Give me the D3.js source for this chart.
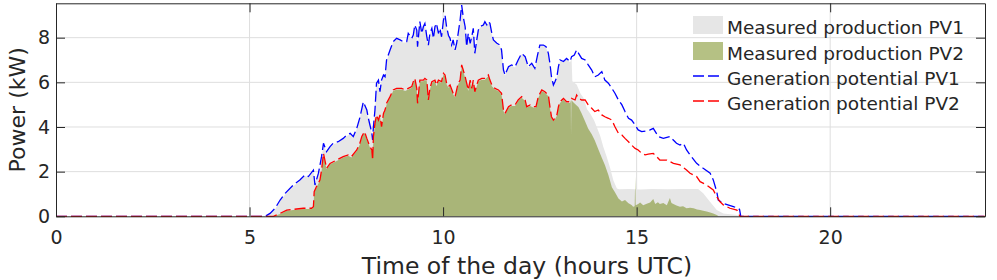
<!DOCTYPE html>
<html><head><meta charset="utf-8">
<script src="https://cdn.jsdelivr.net/npm/d3@7"></script>
<style>
body{margin:0;background:#fff}
text{font-family:"DejaVu Sans",sans-serif;fill:#262626}
</style>
</head><body>
<svg id="chart" width="997" height="280"></svg>
<script>
// ---- data (hours UTC, kW) ----
const xTicks = [0, 5, 10, 15, 20];
const yTicks = [0, 2, 4, 6, 8];
const legendLabels = ["Measured production PV1", "Measured production PV2", "Generation potential PV1", "Generation potential PV2"];

const potentialPV1 = [[0,0],[5.40,0],[5.53,0.13],[5.66,0.36],[5.79,0.73],[5.92,1.03],[6.13,1.40],[6.30,1.63],[6.43,1.85],[6.52,1.78],[6.65,2.07],[6.69,1.40],[6.78,1.93],[6.86,2.67],[6.91,3.27],[6.99,2.90],[7.08,3.12],[7.16,3.27],[7.29,3.34],[7.42,3.49],[7.51,3.64],[7.60,3.72],[7.68,3.57],[7.77,3.94],[7.85,4.42],[7.94,5.13],[8.03,4.76],[8.07,4.39],[8.11,4.09],[8.16,3.72],[8.18,3.42],[8.20,4.01],[8.24,4.76],[8.28,5.96],[8.33,6.10],[8.37,5.58],[8.41,6.10],[8.46,6.33],[8.50,6.25],[8.54,7.00],[8.63,7.45],[8.71,7.82],[8.80,7.97],[8.89,7.90],[8.97,7.82],[9.06,7.82],[9.10,8.19],[9.19,7.97],[9.23,8.12],[9.27,8.57],[9.32,8.34],[9.34,7.60],[9.40,8.72],[9.45,8.19],[9.49,8.49],[9.53,8.64],[9.58,8.04],[9.62,7.67],[9.66,8.19],[9.71,8.42],[9.75,7.97],[9.79,8.49],[9.83,8.64],[9.88,8.19],[9.92,8.42],[9.96,8.04],[10.01,8.79],[10.05,9.01],[10.09,8.49],[10.14,8.10],[10.18,7.97],[10.22,7.67],[10.26,7.90],[10.31,7.45],[10.35,7.75],[10.39,8.19],[10.44,8.79],[10.48,9.46],[10.52,8.94],[10.57,8.49],[10.61,7.60],[10.65,8.19],[10.70,7.75],[10.74,8.04],[10.78,8.42],[10.82,7.30],[10.87,7.90],[10.91,8.34],[10.95,8.49],[11.04,8.57],[11.08,8.72],[11.13,8.57],[11.17,8.72],[11.21,8.64],[11.26,8.19],[11.30,7.90],[11.39,7.75],[11.47,7.67],[11.51,7.45],[11.56,6.55],[11.60,6.33],[11.69,6.70],[11.77,6.78],[11.86,6.70],[11.94,7.00],[12.03,7.30],[12.12,7.15],[12.20,6.70],[12.29,6.85],[12.37,6.63],[12.44,7.22],[12.50,7.67],[12.59,7.67],[12.66,7.60],[12.72,7.30],[12.76,6.85],[12.80,6.25],[12.85,5.88],[12.89,6.03],[12.94,6.25],[12.98,6.70],[13.02,7.00],[13.11,6.93],[13.19,7.07],[13.28,6.93],[13.32,7.15],[13.39,7.22],[13.45,7.45],[13.50,7.30],[13.58,7.07],[13.67,7.00],[13.75,6.78],[13.84,6.55],[13.92,6.25],[14.01,6.33],[14.10,6.48],[14.18,6.10],[14.27,5.96],[14.36,5.73],[14.44,5.51],[14.53,5.21],[14.62,4.99],[14.70,4.69],[14.79,4.39],[14.87,4.31],[14.96,4.09],[15.04,3.87],[15.13,3.79],[15.25,3.82],[15.35,3.87],[15.43,3.94],[15.56,3.57],[15.69,3.49],[15.86,3.57],[16.03,3.27],[16.12,3.19],[16.21,3.27],[16.29,2.97],[16.38,2.75],[16.55,2.37],[16.72,2.15],[16.90,1.93],[16.98,1.63],[17.07,1.10],[17.11,0.73],[17.24,0.58],[17.50,0.43],[17.63,0.36],[17.66,0.30],[17.69,0],[24,0]];

const potentialPV2 = [[0,0],[5.62,0],[5.79,0.13],[5.96,0.28],[6.13,0.31],[6.39,0.36],[6.60,0.36],[6.65,0.43],[6.67,1.10],[6.73,1.33],[6.82,1.63],[6.86,2.07],[6.91,2.82],[6.99,2.15],[7.08,2.37],[7.25,2.52],[7.42,2.67],[7.55,2.75],[7.63,2.67],[7.77,2.97],[7.85,3.27],[7.90,3.57],[7.97,3.79],[8.03,3.49],[8.11,3.12],[8.16,2.97],[8.18,2.52],[8.20,3.57],[8.24,4.16],[8.28,4.54],[8.33,4.31],[8.37,4.54],[8.41,4.01],[8.46,4.61],[8.50,4.76],[8.54,5.06],[8.63,5.36],[8.71,5.66],[8.80,5.73],[8.93,5.73],[9.02,5.66],[9.10,5.73],[9.19,5.81],[9.23,6.03],[9.27,6.18],[9.32,5.73],[9.34,5.06],[9.40,6.10],[9.49,6.10],[9.53,6.18],[9.58,6.10],[9.62,5.21],[9.66,5.73],[9.71,6.03],[9.79,6.10],[9.83,5.88],[9.88,6.10],[9.96,6.03],[10.01,6.40],[10.05,6.33],[10.09,5.96],[10.14,5.81],[10.18,5.88],[10.26,5.51],[10.31,5.36],[10.35,5.66],[10.39,5.96],[10.44,6.10],[10.48,6.78],[10.52,6.55],[10.57,6.25],[10.61,5.96],[10.65,5.66],[10.70,6.10],[10.74,5.73],[10.78,6.10],[10.82,5.58],[10.87,5.88],[10.91,6.10],[11.00,6.18],[11.08,6.18],[11.17,6.33],[11.21,6.10],[11.26,5.88],[11.34,5.73],[11.43,5.66],[11.51,5.51],[11.56,4.76],[11.60,4.61],[11.69,4.91],[11.77,4.99],[11.86,4.99],[11.94,5.21],[12.03,5.36],[12.12,5.21],[12.16,4.91],[12.25,4.99],[12.33,4.91],[12.40,4.91],[12.46,5.36],[12.55,5.66],[12.63,5.58],[12.72,5.43],[12.76,4.91],[12.80,4.46],[12.85,4.31],[12.89,4.39],[12.94,4.54],[12.98,4.91],[13.02,5.13],[13.11,5.28],[13.19,5.13],[13.28,5.13],[13.32,5.28],[13.41,5.21],[13.45,5.43],[13.50,5.28],[13.58,5.21],[13.67,5.21],[13.75,4.99],[13.84,4.84],[13.92,4.69],[14.01,4.76],[14.10,4.54],[14.18,4.46],[14.27,4.39],[14.36,4.31],[14.44,4.01],[14.53,3.72],[14.62,3.64],[14.70,3.49],[14.79,3.34],[14.87,3.19],[14.96,3.04],[15.04,2.97],[15.13,2.82],[15.22,2.75],[15.30,2.78],[15.43,2.82],[15.52,2.67],[15.60,2.52],[15.78,2.52],[15.95,2.37],[16.12,2.30],[16.29,2.07],[16.38,1.93],[16.55,1.78],[16.64,1.55],[16.81,1.40],[16.98,1.18],[17.07,0.88],[17.15,0.66],[17.24,0.51],[17.41,0.36],[17.59,0.28],[17.63,0.13],[17.67,0],[24,0]];

const measuredPV1 = [[0,0],[5.42,0],[5.53,0.10],[5.66,0.32],[5.79,0.68],[5.92,0.98],[6.13,1.35],[6.30,1.58],[6.43,1.80],[6.52,1.76],[6.65,2.02],[6.69,1.50],[6.78,1.90],[6.86,2.60],[6.91,3.20],[6.99,2.87],[7.08,3.08],[7.16,3.22],[7.29,3.30],[7.42,3.45],[7.51,3.60],[7.60,3.68],[7.68,3.55],[7.77,3.90],[7.85,4.38],[7.94,5.08],[8.03,4.72],[8.07,4.36],[8.11,4.06],[8.16,3.70],[8.18,3.45],[8.20,3.98],[8.24,4.72],[8.28,5.90],[8.33,6.05],[8.37,5.55],[8.41,6.05],[8.46,6.28],[8.50,6.22],[8.54,6.95],[8.63,7.40],[8.71,7.78],[8.80,7.92],[8.89,7.86],[8.97,7.78],[9.06,7.78],[9.10,8.14],[9.19,7.93],[9.23,8.08],[9.27,8.52],[9.32,8.30],[9.34,7.62],[9.40,8.67],[9.45,8.15],[9.49,8.45],[9.53,8.60],[9.58,8.00],[9.62,7.65],[9.66,8.15],[9.71,8.38],[9.75,7.93],[9.79,8.45],[9.83,8.60],[9.88,8.15],[9.92,8.38],[9.96,8.00],[10.01,8.75],[10.05,8.96],[10.09,8.45],[10.14,8.06],[10.18,7.93],[10.22,7.64],[10.26,7.86],[10.31,7.42],[10.35,7.71],[10.39,8.15],[10.44,8.75],[10.48,9.40],[10.52,8.90],[10.57,8.45],[10.61,7.58],[10.65,8.15],[10.70,7.71],[10.74,8.00],[10.78,8.38],[10.82,7.28],[10.87,7.86],[10.91,8.30],[10.95,8.45],[11.04,8.53],[11.08,8.68],[11.13,8.53],[11.17,8.68],[11.21,8.60],[11.26,8.15],[11.30,7.86],[11.39,7.71],[11.47,7.63],[11.51,7.42],[11.56,6.52],[11.60,6.30],[11.69,6.66],[11.77,6.74],[11.86,6.66],[11.94,6.96],[12.03,7.26],[12.12,7.11],[12.20,6.66],[12.29,6.81],[12.37,6.60],[12.44,7.18],[12.50,7.63],[12.59,7.63],[12.66,7.56],[12.72,7.26],[12.76,6.81],[12.80,6.22],[12.85,5.86],[12.89,6.00],[12.94,6.22],[12.98,6.66],[13.02,6.96],[13.11,6.90],[13.19,7.03],[13.28,6.90],[13.32,7.05],[13.34,6.05],[13.45,5.90],[13.55,5.50],[13.63,5.30],[13.72,4.80],[13.80,4.60],[13.90,4.30],[13.97,4.00],[14.06,3.60],[14.14,3.10],[14.22,2.70],[14.31,2.20],[14.40,1.60],[14.49,1.25],[14.55,1.21],[14.80,1.22],[15.10,1.20],[15.40,1.22],[15.80,1.21],[16.20,1.22],[16.59,1.22],[16.72,1.03],[16.89,0.66],[17.07,0.28],[17.24,0.13],[17.59,0.06],[17.67,0],[24,0]];

const measuredPV2 = [[0,0],[5.62,0],[5.79,0.10],[5.96,0.25],[6.13,0.28],[6.39,0.33],[6.60,0.33],[6.65,0.40],[6.67,1.05],[6.73,1.30],[6.82,1.60],[6.86,2.02],[6.91,2.75],[6.99,2.12],[7.08,2.33],[7.25,2.48],[7.42,2.63],[7.55,2.71],[7.63,2.63],[7.77,2.93],[7.85,3.22],[7.90,3.52],[7.97,3.74],[8.03,3.45],[8.11,3.08],[8.16,2.93],[8.18,2.55],[8.20,3.52],[8.24,4.11],[8.28,4.49],[8.33,4.27],[8.37,4.49],[8.41,3.98],[8.46,4.56],[8.50,4.71],[8.54,5.01],[8.63,5.31],[8.71,5.61],[8.80,5.68],[8.93,5.68],[9.02,5.61],[9.10,5.68],[9.19,5.76],[9.23,5.98],[9.27,6.12],[9.32,5.68],[9.34,5.06],[9.40,6.05],[9.49,6.05],[9.53,6.12],[9.58,6.05],[9.62,5.20],[9.66,5.68],[9.71,5.98],[9.79,6.05],[9.83,5.83],[9.88,6.05],[9.96,5.98],[10.01,6.34],[10.05,6.28],[10.09,5.91],[10.14,5.76],[10.18,5.83],[10.26,5.47],[10.31,5.32],[10.35,5.61],[10.39,5.91],[10.44,6.05],[10.48,6.72],[10.52,6.50],[10.57,6.20],[10.61,5.91],[10.65,5.61],[10.70,6.05],[10.74,5.68],[10.78,6.05],[10.82,5.54],[10.87,5.83],[10.91,6.05],[11.00,6.12],[11.08,6.12],[11.17,6.28],[11.21,6.05],[11.26,5.83],[11.34,5.68],[11.43,5.61],[11.51,5.47],[11.56,4.72],[11.60,4.57],[11.69,4.86],[11.77,4.94],[11.86,4.94],[11.94,5.16],[12.03,5.31],[12.12,5.16],[12.16,4.87],[12.25,4.94],[12.33,4.87],[12.40,4.87],[12.46,5.31],[12.55,5.61],[12.63,5.53],[12.72,5.38],[12.76,4.87],[12.80,4.42],[12.85,4.27],[12.89,4.35],[12.94,4.50],[12.98,4.87],[13.02,5.08],[13.11,5.23],[13.19,5.08],[13.28,5.08],[13.30,5.20],[13.305,3.60],[13.315,5.20],[13.37,5.10],[13.41,5.03],[13.50,4.88],[13.58,4.60],[13.67,4.25],[13.75,3.92],[13.84,3.68],[13.92,3.40],[14.01,3.00],[14.10,2.62],[14.18,2.30],[14.27,1.85],[14.36,1.30],[14.44,1.08],[14.53,0.80],[14.62,0.66],[14.70,0.73],[14.79,0.58],[14.87,0.51],[14.91,0.43],[14.95,0.45],[14.965,1.78],[14.975,0.50],[15.04,0.55],[15.09,0.62],[15.17,0.50],[15.26,0.56],[15.35,0.62],[15.43,0.78],[15.48,0.55],[15.55,0.63],[15.60,0.55],[15.69,0.60],[15.78,0.50],[15.86,0.82],[15.90,0.60],[15.95,0.55],[16.03,0.48],[16.12,0.43],[16.20,0.45],[16.29,0.36],[16.38,0.38],[16.47,0.36],[16.56,0.31],[16.64,0.28],[16.72,0.25],[16.81,0.21],[16.90,0.17],[16.98,0.13],[17.07,0.06],[17.12,0],[24,0]];

// ---- layout ----
const W = 997, H = 280;
const L = 56, R = 985, T = 3.3, B = 216.3;
const svg = d3.select("#chart");
svg.append("rect").attr("width", W).attr("height", H).attr("fill", "#fff");

const x = d3.scaleLinear().domain([0, 24]).range([L, R]);
const y = d3.scaleLinear().domain([0, 9.54]).range([B, T]);

const gray = "#e6e6e6", green = "rgb(113,136,20)", greenOp = 0.52;
const dash = "11,4";

// grid
const grid = svg.append("g");
grid.selectAll(".gx").data(xTicks.filter(d => d > 0)).join("line")
  .attr("x1", d => x(d)).attr("x2", d => x(d)).attr("y1", T).attr("y2", B)
  .attr("stroke", "#dedede").attr("stroke-width", 1);
grid.selectAll(".gy").data(yTicks.filter(d => d > 0)).join("line")
  .attr("x1", L).attr("x2", R).attr("y1", d => y(d)).attr("y2", d => y(d))
  .attr("stroke", "#dedede").attr("stroke-width", 1);

const area = d3.area().x(d => x(d[0])).y0(y(0)).y1(d => y(d[1]));
const line = d3.line().x(d => x(d[0])).y(d => y(d[1]));

const plot = svg.append("g");
plot.append("path").datum(measuredPV1).attr("d", area).attr("fill", gray);
plot.append("path").datum(measuredPV2).attr("d", area).attr("fill", green).attr("fill-opacity", greenOp);
plot.append("path").datum(potentialPV1).attr("d", line).attr("fill", "none")
  .attr("stroke", "#0000ff").attr("stroke-width", 1.3).attr("stroke-dasharray", dash);
plot.append("path").datum(potentialPV2).attr("d", line).attr("fill", "none")
  .attr("stroke", "#ff0000").attr("stroke-width", 1.3).attr("stroke-dasharray", dash);

// axes
const axCol = "#262626";
function styleAxis(g) {
  g.selectAll("path,line").attr("stroke", axCol);
  g.selectAll("text").attr("fill", axCol).style("font-size", "19px").style("font-family", "DejaVu Sans");
}
svg.append("g").attr("transform", `translate(0,${B})`)
  .call(d3.axisBottom(x).tickValues(xTicks).tickSize(-9).tickSizeOuter(0).tickPadding(14).tickFormat(d3.format("d")))
  .call(styleAxis);
svg.append("g").attr("transform", `translate(0,${T})`)
  .call(d3.axisTop(x).tickValues(xTicks).tickSize(-9).tickSizeOuter(0).tickFormat(""))
  .call(styleAxis);
svg.append("g").attr("transform", `translate(${L},0)`)
  .call(d3.axisLeft(y).tickValues(yTicks).tickSize(-9).tickSizeOuter(0).tickPadding(6).tickFormat(d3.format("d")))
  .call(styleAxis);
svg.append("g").attr("transform", `translate(${R},0)`)
  .call(d3.axisRight(y).tickValues(yTicks).tickSize(-9).tickSizeOuter(0).tickFormat(""))
  .call(styleAxis);

// axis titles
svg.append("text").attr("x", 527).attr("y", 274).attr("text-anchor", "middle")
  .style("font-size", "23.5px").text("Time of the day (hours UTC)");
svg.append("text").attr("transform", `translate(25,${(T + B) / 2}) rotate(-90)`).attr("text-anchor", "middle")
  .style("font-size", "22px").text("Power (kW)");

// legend
const leg = svg.append("g");
const rowY = [25, 51, 76, 101];
leg.append("rect").attr("x", 693).attr("y", rowY[0] - 9).attr("width", 30).attr("height", 18).attr("fill", gray);
leg.append("rect").attr("x", 693).attr("y", rowY[1] - 9).attr("width", 30).attr("height", 18).attr("fill", green).attr("fill-opacity", greenOp);
leg.append("line").attr("x1", 693).attr("x2", 723).attr("y1", rowY[2]).attr("y2", rowY[2])
  .attr("stroke", "#0000ff").attr("stroke-width", 1.3).attr("stroke-dasharray", dash);
leg.append("line").attr("x1", 693).attr("x2", 723).attr("y1", rowY[3]).attr("y2", rowY[3])
  .attr("stroke", "#ff0000").attr("stroke-width", 1.3).attr("stroke-dasharray", dash);
leg.selectAll(".lt").data(legendLabels).join("text")
  .attr("x", 727).attr("y", (d, i) => rowY[i] + 8.5)
  .style("font-size", "18.5px").text(d => d);
</script>
</body></html>
